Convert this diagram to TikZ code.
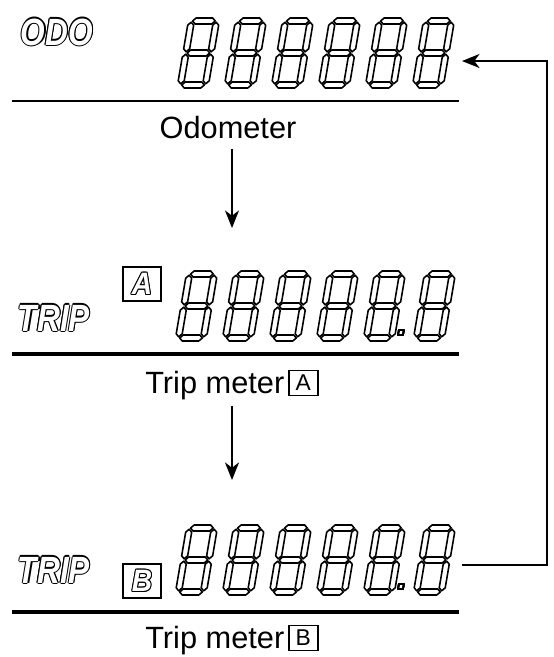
\documentclass[tikz,border=0pt]{standalone}
\usepackage{fontspec}
\setmainfont{Liberation Sans}
\usetikzlibrary{positioning}
\usetikzlibrary{arrows.meta}

% outlined lettering: dark copies round a white one
\newcommand{\hollowcopies}[1]{%
  \rlap{\kern0.6pt#1}\rlap{\kern-0.6pt#1}%
  \rlap{\raisebox{0.6pt}{#1}}\rlap{\raisebox{-0.6pt}{#1}}%
  \rlap{\kern0.42pt\raisebox{0.42pt}{#1}}\rlap{\kern-0.42pt\raisebox{0.42pt}{#1}}%
  \rlap{\kern0.42pt\raisebox{-0.42pt}{#1}}\rlap{\kern-0.42pt\raisebox{-0.42pt}{#1}}}
\newcommand{\hollow}[1]{\leavevmode\hollowcopies{#1}\textcolor{white}{#1}}
\newcommand{\digS}{0.17}
\newcommand{\digG}{1.2}

% one slanted seven segment cell, bottom left at (#1,#2)
\newcommand{\lcddigit}[2]{%
  \begin{scope}[shift={(#1,#2)}, cm={1,0,-\digS,-1,(0,0)}]
    \foreach \lv in {3,35,67}
      \draw[seg] ({3+\digG},\lv) -- ({6+\digG},{\lv+3}) -- ({25-\digG},{\lv+3}) -- ({28-\digG},\lv) -- ({25-\digG},{\lv-3}) -- ({6+\digG},{\lv-3}) -- cycle;
    \foreach \cx in {3,28}
      \foreach \va/\vb in {3/35,35/67}
        \draw[seg] (\cx,{\va+\digG}) -- ({\cx+3},{\va+3+\digG}) -- ({\cx+3},{\vb-3-\digG}) -- (\cx,{\vb-\digG}) -- ({\cx-3},{\vb-3-\digG}) -- ({\cx-3},{\va+3+\digG}) -- cycle;
  \end{scope}}
\newcommand{\lcdpoint}[2]{%
  \begin{scope}[shift={(#1,#2)}, cm={1,0,-\digS,-1,(0,0)}]
    \draw[seg] (34,6) rectangle (39,11);
  \end{scope}}

\begin{document}
\begin{tikzpicture}[x=0.02cm, y=-0.02cm,
    seg/.style={line width=0.9pt, line join=round},
    lcdline/.style={line width=1.2pt},
    flow/.style={line width=1.1pt, -{Stealth[length=10pt, width=8pt, inset=3pt]}},
    lbl/.style={font=\fontsize{17.5}{20}\selectfont, inner sep=0pt},
    lblbox/.style={draw, line width=0.8pt, inner sep=0pt, minimum width=0.58cm, minimum height=0.5cm,
      font=\fontsize{13}{14}\selectfont},
    tagword/.style={font=\fontsize{18}{20}\selectfont\bfseries\itshape, inner sep=0pt},
    tagbox/.style={draw, line width=0.8pt, minimum width=0.76cm, minimum height=0.68cm, inner sep=0pt,
      font=\fontsize{16}{17}\selectfont\bfseries\itshape}]
  \useasboundingbox (0,0) rectangle (554,657);

  % odometer
  \node[tagword] (odo word) at (57,32) {\scalebox{1}[1.2]{\hollow{ODO}}};
  \foreach \k in {0,...,5}
    \lcddigit{177+47*\k}{88}
  \draw[lcdline] (12,101) -- (459,101);
  \node[lbl, anchor=base] (odo lbl) at (228,138) {Odometer};

  % trip meter A
  \node[tagword] (tripA word) at (54,318) {\scalebox{1}[1.2]{\hollow{TRIP}}};
  \node[tagbox] (tripA badge) at (142,284) {\scalebox{1}[1.1]{\hollow{A}}};
  \foreach \px in {175,222,269,316,363,413}
    \lcddigit{\px}{341}
  \lcdpoint{363}{341}
  \draw[lcdline, line width=1.8pt] (12,354) -- (459,354);
  \node[lbl, anchor=base west] (tripA lbl) at (145,393) {Trip meter};
  \node[lblbox, anchor=south west] (tripA key) at ([xshift=2pt, yshift=-1.7pt]tripA lbl.base east) {A};

  % trip meter B
  \node[tagword] (tripB word) at (54,570) {\scalebox{1}[1.2]{\hollow{TRIP}}};
  \node[tagbox] (tripB badge) at (142,581) {\scalebox{1}[1.1]{\hollow{B}}};
  \foreach \px in {175,222,269,316,363,413}
    \lcddigit{\px}{595}
  \lcdpoint{363}{595}
  \draw[lcdline, line width=1.8pt] (12,612) -- (459,612);
  \node[lbl, anchor=base west] (tripB lbl) at (145,648) {Trip meter};
  \node[lblbox, anchor=south west] (tripB key) at ([xshift=2pt, yshift=-1.7pt]tripB lbl.base east) {B};

  % connectors
  \coordinate (tripA in) at (232,228);
  \coordinate (tripB in) at (232,480);
  \coordinate (odo in) at (462,61);
  \coordinate (tripB out) at (462,565);
  \coordinate (loop) at (547,0);
  \draw[flow] (odo lbl.south -| tripA in) ++(0,10) -- (tripA in);
  \draw[flow] (tripA lbl.south -| tripB in) ++(0,6) -- (tripB in);
  \draw[flow] (tripB out) -- (tripB out -| loop) -- (odo in -| loop) -- (odo in);
\end{tikzpicture}
\end{document}
